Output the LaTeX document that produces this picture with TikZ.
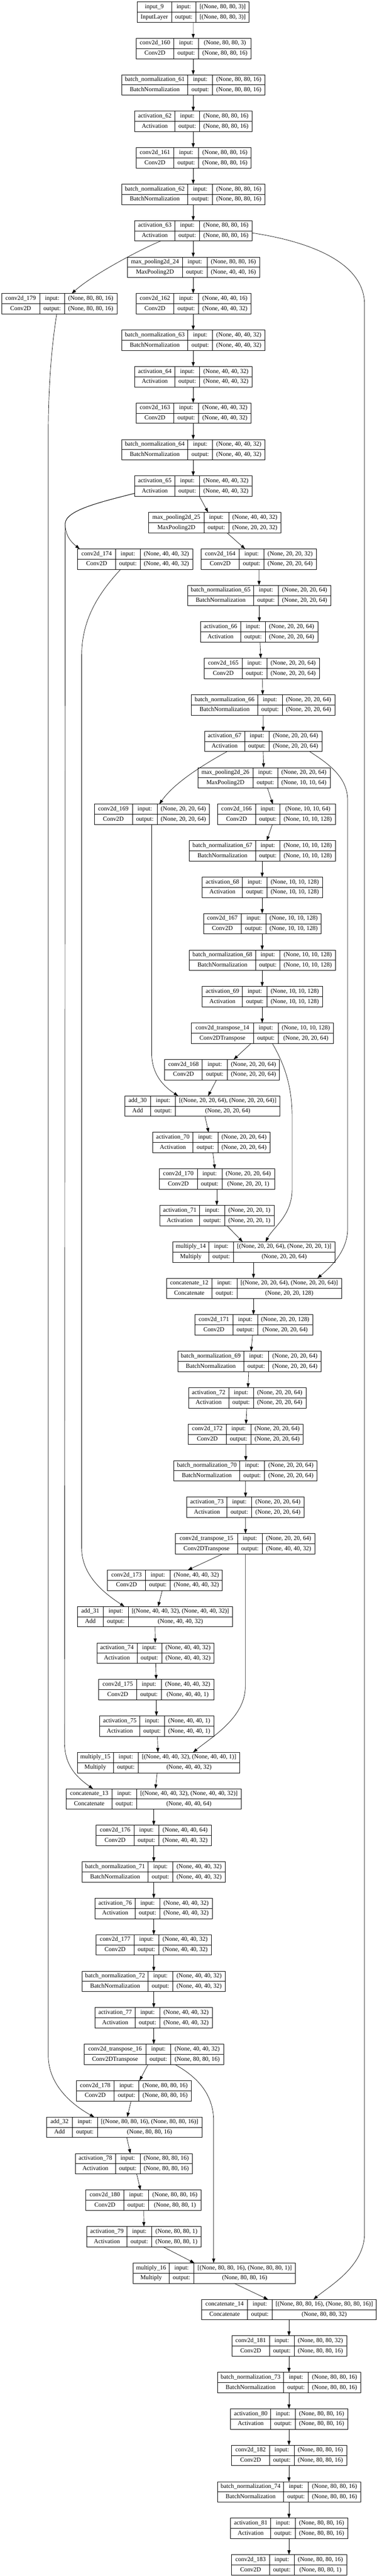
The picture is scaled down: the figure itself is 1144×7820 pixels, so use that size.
\documentclass[tikz,border=0pt]{standalone}
\usepackage{fontspec}
\setmainfont{Liberation Serif}
\usetikzlibrary{arrows.meta}
\tikzset{
  lbox/.style={draw, rectangle, line width=1pt, inner sep=0pt, outer sep=0pt, minimum height=46.5pt},
  cellline/.style={line width=1pt},
  ltxt/.style={inner sep=0pt, font=\fontsize{14}{16}\selectfont, text height=9.5pt, text depth=3pt},
  arr/.style={line width=0.8pt, -{Triangle[length=10pt,width=7pt]}},
}
\def\parsexs#1,#2,#3,#4\relax{\def\Lxl{#1}\def\Lda{#2}\def\Ldb{#3}\def\Lxr{#4}}
\newcommand\shp[3]{(None, #1, #2, #3)}
\newcommand\shl[6]{[(None, #1, #2, #3), (None, #4, #5, #6)]}
\newcommand\layer[7]{%
  \parsexs#3\relax
  \pgfmathsetmacro\Lyt{5.5+110.71*#2}%
  \pgfmathsetmacro\Lyb{\Lyt+62}%
  \pgfmathsetmacro\Lym{\Lyt+31}%
  \pgfmathsetmacro\Lyu{\Lyt+15.5}%
  \pgfmathsetmacro\Lyd{\Lyt+46.5}%
  \pgfmathsetmacro\Lxc{(\Lxl+\Lxr)/2}%
  \pgfmathsetmacro\Lw{(\Lxr-\Lxl)*0.75}%
  \expandafter\xdef\csname cx@#1\endcsname{\Lxc}%
  \node[lbox, minimum width=\Lw pt] (#1) at (\Lxc,\Lym) {};
  \draw[cellline] (\Lda,\Lyt) -- (\Lda,\Lyb) (\Ldb,\Lyt) -- (\Ldb,\Lyb) (\Lxl,\Lym) -- (\Lxr,\Lym);
  \node[ltxt] at ({(\Lxl+\Lda)/2},\Lyu) {#4};
  \node[ltxt] at ({(\Lxl+\Lda)/2},\Lyd) {#5};
  \node[ltxt] at ({(\Lda+\Ldb)/2},\Lyu) {input:};
  \node[ltxt] at ({(\Lda+\Ldb)/2},\Lyd) {output:};
  \node[ltxt] at ({(\Ldb+\Lxr)/2},\Lyu) {#6};
  \node[ltxt] at ({(\Ldb+\Lxr)/2},\Lyd) {#7};
}
\newcommand\sft[3]{\pgfmathsetmacro#1{(#3-\csname cx@#2\endcsname)*0.75}}
\newcommand\conn[4]{%
  \sft\Ea{#1}{#2}\sft\Eb{#3}{#4}%
  \draw[arr] ([xshift=\Ea pt]#1.south) -- ([xshift=\Eb pt]#3.north);}
\begin{document}
\begin{tikzpicture}[x=0.75pt,y=-0.75pt]
\path[use as bounding box, fill=white] (0,0) rectangle (1144,7820);
% ---------------- layers ----------------
\layer{in9}{0}{416.5,520.7,595.5,756.8}{input\_9}{InputLayer}{[\shp{80}{80}{3}]}{[\shp{80}{80}{3}]}
\layer{c160}{1}{413,528,603,763}{conv2d\_160}{Conv2D}{\shp{80}{80}{3}}{\shp{80}{80}{16}}
\layer{bn61}{2}{369.5,570.5,645.5,805}{batch\_normalization\_61}{BatchNormalization}{\shp{80}{80}{16}}{\shp{80}{80}{16}}
\layer{a62}{3}{409,531,606.5,765.5}{activation\_62}{Activation}{\shp{80}{80}{16}}{\shp{80}{80}{16}}
\layer{c161}{4}{413,528,603,763}{conv2d\_161}{Conv2D}{\shp{80}{80}{16}}{\shp{80}{80}{16}}
\layer{bn62}{5}{369.5,570.5,645.5,805}{batch\_normalization\_62}{BatchNormalization}{\shp{80}{80}{16}}{\shp{80}{80}{16}}
\layer{a63}{6}{409,531,606.5,765.5}{activation\_63}{Activation}{\shp{80}{80}{16}}{\shp{80}{80}{16}}
\layer{mp24}{7}{386.5,554.5,629,788.5}{max\_pooling2d\_24}{MaxPooling2D}{\shp{80}{80}{16}}{\shp{40}{40}{16}}
\layer{c179}{8}{5,120.5,196,355}{conv2d\_179}{Conv2D}{\shp{80}{80}{16}}{\shp{80}{80}{16}}
\layer{c162}{8}{413,528,603,763}{conv2d\_162}{Conv2D}{\shp{40}{40}{16}}{\shp{40}{40}{32}}
\layer{bn63}{9}{369.5,570.5,645.5,805}{batch\_normalization\_63}{BatchNormalization}{\shp{40}{40}{32}}{\shp{40}{40}{32}}
\layer{a64}{10}{409,531,606.5,765.5}{activation\_64}{Activation}{\shp{40}{40}{32}}{\shp{40}{40}{32}}
\layer{c163}{11}{413,528,603,763}{conv2d\_163}{Conv2D}{\shp{40}{40}{32}}{\shp{40}{40}{32}}
\layer{bn64}{12}{369.5,570.5,645.5,805}{batch\_normalization\_64}{BatchNormalization}{\shp{40}{40}{32}}{\shp{40}{40}{32}}
\layer{a65}{13}{409,531,606.5,765.5}{activation\_65}{Activation}{\shp{40}{40}{32}}{\shp{40}{40}{32}}
\layer{mp25}{14}{451.5,619.5,694.5,853.5}{max\_pooling2d\_25}{MaxPooling2D}{\shp{40}{40}{32}}{\shp{20}{20}{32}}
\layer{c174}{15}{236,351,426,585}{conv2d\_174}{Conv2D}{\shp{40}{40}{32}}{\shp{40}{40}{32}}
\layer{c164}{15}{611,726.5,801.5,960.5}{conv2d\_164}{Conv2D}{\shp{20}{20}{32}}{\shp{20}{20}{64}}
\layer{bn65}{16}{570,770,845.5,1004.5}{batch\_normalization\_65}{BatchNormalization}{\shp{20}{20}{64}}{\shp{20}{20}{64}}
\layer{a66}{17}{608.5,730.5,806,965}{activation\_66}{Activation}{\shp{20}{20}{64}}{\shp{20}{20}{64}}
\layer{c165}{18}{620.5,735.5,810.5,970}{conv2d\_165}{Conv2D}{\shp{20}{20}{64}}{\shp{20}{20}{64}}
\layer{bn66}{19}{581.5,782.5,857.5,1016.5}{batch\_normalization\_66}{BatchNormalization}{\shp{20}{20}{64}}{\shp{20}{20}{64}}
\layer{a67}{20}{621,743,817.5,977.5}{activation\_67}{Activation}{\shp{20}{20}{64}}{\shp{20}{20}{64}}
\layer{mp26}{21}{600.5,768.5,843.5,1002.5}{max\_pooling2d\_26}{MaxPooling2D}{\shp{20}{20}{64}}{\shp{10}{10}{64}}
\layer{c169}{22}{286.5,402,477.5,636}{conv2d\_169}{Conv2D}{\shp{20}{20}{64}}{\shp{20}{20}{64}}
\layer{c166}{22}{660.5,776,850.5,1018.5}{conv2d\_166}{Conv2D}{\shp{10}{10}{64}}{\shp{10}{10}{128}}
\layer{bn67}{23}{575,776,850.5,1018.5}{batch\_normalization\_67}{BatchNormalization}{\shp{10}{10}{128}}{\shp{10}{10}{128}}
\layer{a68}{24}{614.5,736.5,811,979}{activation\_68}{Activation}{\shp{10}{10}{128}}{\shp{10}{10}{128}}
\layer{c167}{25}{618,732.5,808,975.5}{conv2d\_167}{Conv2D}{\shp{10}{10}{128}}{\shp{10}{10}{128}}
\layer{bn68}{26}{575,776,850.5,1018.5}{batch\_normalization\_68}{BatchNormalization}{\shp{10}{10}{128}}{\shp{10}{10}{128}}
\layer{a69}{27}{614.5,736.5,811,979}{activation\_69}{Activation}{\shp{10}{10}{128}}{\shp{10}{10}{128}}
\layer{ct14}{28}{581,770,845,1012.5}{conv2d\_transpose\_14}{Conv2DTranspose}{\shp{10}{10}{128}}{\shp{20}{20}{64}}
\layer{c168}{29}{500,614.5,690,849}{conv2d\_168}{Conv2D}{\shp{20}{20}{64}}{\shp{20}{20}{64}}
\layer{add30}{30}{378.5,457.5,533,850}{add\_30}{Add}{\shl{20}{20}{64}{20}{20}{64}}{\shp{20}{20}{64}}
\layer{a70}{31}{464,586,661.5,820.5}{activation\_70}{Activation}{\shp{20}{20}{64}}{\shp{20}{20}{64}}
\layer{c170}{32}{484,599,674,834}{conv2d\_170}{Conv2D}{\shp{20}{20}{64}}{\shp{20}{20}{1}}
\layer{a71}{33}{485.5,606.5,682,832.5}{activation\_71}{Activation}{\shp{20}{20}{1}}{\shp{20}{20}{1}}
\layer{mul14}{34}{524.5,634.5,709,1017}{multiply\_14}{Multiply}{\shl{20}{20}{64}{20}{20}{1}}{\shp{20}{20}{64}}
\layer{cat12}{35}{505.5,644,719.5,1037}{concatenate\_12}{Concatenate}{\shl{20}{20}{64}{20}{20}{64}}{\shp{20}{20}{128}}
\layer{c171}{36}{592,707,782.5,949.5}{conv2d\_171}{Conv2D}{\shp{20}{20}{128}}{\shp{20}{20}{64}}
\layer{bn69}{37}{539.5,740.5,815.5,975.5}{batch\_normalization\_69}{BatchNormalization}{\shp{20}{20}{64}}{\shp{20}{20}{64}}
\layer{a72}{38}{572.5,694.5,769.5,929}{activation\_72}{Activation}{\shp{20}{20}{64}}{\shp{20}{20}{64}}
\layer{c172}{39}{572,687,762,921}{conv2d\_172}{Conv2D}{\shp{20}{20}{64}}{\shp{20}{20}{64}}
\layer{bn70}{40}{528,728,803.5,963}{batch\_normalization\_70}{BatchNormalization}{\shp{20}{20}{64}}{\shp{20}{20}{64}}
\layer{a73}{41}{567.5,689.5,764,924}{activation\_73}{Activation}{\shp{20}{20}{64}}{\shp{20}{20}{64}}
\layer{ct15}{42}{532.5,721.5,796.5,956.5}{conv2d\_transpose\_15}{Conv2DTranspose}{\shp{20}{20}{64}}{\shp{40}{40}{32}}
\layer{c173}{43}{326.5,442,517,675.5}{conv2d\_173}{Conv2D}{\shp{40}{40}{32}}{\shp{40}{40}{32}}
\layer{add31}{44}{234.5,314,389.5,706}{add\_31}{Add}{\shl{40}{40}{32}{40}{40}{32}}{\shp{40}{40}{32}}
\layer{a74}{45}{294,416,491.5,650.5}{activation\_74}{Activation}{\shp{40}{40}{32}}{\shp{40}{40}{32}}
\layer{c175}{46}{300,415,490,649.5}{conv2d\_175}{Conv2D}{\shp{40}{40}{32}}{\shp{40}{40}{1}}
\layer{a75}{47}{303,424.5,499.5,649.5}{activation\_75}{Activation}{\shp{40}{40}{1}}{\shp{40}{40}{1}}
\layer{mul15}{48}{234.5,344.5,420,728}{multiply\_15}{Multiply}{\shl{40}{40}{32}{40}{40}{1}}{\shp{40}{40}{32}}
\layer{cat13}{49}{201,340.5,415,732.5}{concatenate\_13}{Concatenate}{\shl{40}{40}{32}{40}{40}{32}}{\shp{40}{40}{64}}
\layer{c176}{50}{292,407,482.5,641.5}{conv2d\_176}{Conv2D}{\shp{40}{40}{64}}{\shp{40}{40}{32}}
\layer{bn71}{51}{249.5,449.5,525,684}{batch\_normalization\_71}{BatchNormalization}{\shp{40}{40}{32}}{\shp{40}{40}{32}}
\layer{a76}{52}{289,410.5,485.5,644.5}{activation\_76}{Activation}{\shp{40}{40}{32}}{\shp{40}{40}{32}}
\layer{c177}{53}{292,407,482.5,641.5}{conv2d\_177}{Conv2D}{\shp{40}{40}{32}}{\shp{40}{40}{32}}
\layer{bn72}{54}{249.5,449.5,525,684}{batch\_normalization\_72}{BatchNormalization}{\shp{40}{40}{32}}{\shp{40}{40}{32}}
\layer{a77}{55}{289,410.5,485.5,644.5}{activation\_77}{Activation}{\shp{40}{40}{32}}{\shp{40}{40}{32}}
\layer{ct16}{56}{255,443.5,518.5,679}{conv2d\_transpose\_16}{Conv2DTranspose}{\shp{40}{40}{32}}{\shp{80}{80}{16}}
\layer{c178}{57}{231.5,347,421.5,581.5}{conv2d\_178}{Conv2D}{\shp{80}{80}{16}}{\shp{80}{80}{16}}
\layer{add32}{58}{141.5,220,295.5,613}{add\_32}{Add}{\shl{80}{80}{16}{80}{80}{16}}{\shp{80}{80}{16}}
\layer{a78}{59}{229,350.5,425.5,584.5}{activation\_78}{Activation}{\shp{80}{80}{16}}{\shp{80}{80}{16}}
\layer{c180}{60}{261,376,451.5,611}{conv2d\_180}{Conv2D}{\shp{80}{80}{16}}{\shp{80}{80}{1}}
\layer{a79}{61}{264,385.5,460.5,611}{activation\_79}{Activation}{\shp{80}{80}{1}}{\shp{80}{80}{1}}
\layer{mul16}{62}{404,514,589,897}{multiply\_16}{Multiply}{\shl{80}{80}{16}{80}{80}{1}}{\shp{80}{80}{16}}
\layer{cat14}{63}{612.5,751.5,826.5,1143}{concatenate\_14}{Concatenate}{\shl{80}{80}{16}{80}{80}{16}}{\shp{80}{80}{32}}
\layer{c181}{64}{704,818.5,893,1053}{conv2d\_181}{Conv2D}{\shp{80}{80}{32}}{\shp{80}{80}{16}}
\layer{bn73}{65}{660.5,861.5,936.5,1095.5}{batch\_normalization\_73}{BatchNormalization}{\shp{80}{80}{16}}{\shp{80}{80}{16}}
\layer{a80}{66}{700.5,822,897,1056}{activation\_80}{Activation}{\shp{80}{80}{16}}{\shp{80}{80}{16}}
\layer{c182}{67}{703.5,818.5,893,1053}{conv2d\_182}{Conv2D}{\shp{80}{80}{16}}{\shp{80}{80}{16}}
\layer{bn74}{68}{660.5,861.5,936.5,1095.5}{batch\_normalization\_74}{BatchNormalization}{\shp{80}{80}{16}}{\shp{80}{80}{16}}
\layer{a81}{69}{700.5,822,897,1056}{activation\_81}{Activation}{\shp{80}{80}{16}}{\shp{80}{80}{16}}
\layer{c183}{70}{703.5,818.5,893,1053}{conv2d\_183}{Conv2D}{\shp{80}{80}{16}}{\shp{80}{80}{1}}
% ---------------- straight connectors ----------------
\conn{in9}{586.7}{c160}{586.7}
\conn{c160}{586.7}{bn61}{586.7}
\conn{bn61}{586.7}{a62}{586.7}
\conn{a62}{586.7}{c161}{586.7}
\conn{c161}{586.7}{bn62}{586.7}
\conn{bn62}{586.7}{a63}{586.7}
\conn{a63}{586.7}{mp24}{586.7}
\conn{mp24}{586.7}{c162}{586.7}
\conn{c162}{586.7}{bn63}{586.7}
\conn{bn63}{586.7}{a64}{586.7}
\conn{a64}{586.7}{c163}{586.7}
\conn{c163}{586.7}{bn64}{586.7}
\conn{bn64}{586.7}{a65}{586.7}
\conn{a65}{605.6}{mp25}{632}
\conn{mp25}{689.2}{c164}{744.2}
\conn{c164}{786.7}{bn65}{786.7}
\conn{bn65}{787.5}{a66}{787.5}
\conn{a66}{789.6}{c165}{791.8}
\conn{c165}{797}{bn66}{797.7}
\conn{bn66}{799.1}{a67}{799.1}
\conn{a67}{799.1}{mp26}{800.6}
\conn{mp26}{812.3}{c166}{828.4}
\conn{c166}{827}{bn67}{810}
\conn{bn67}{796.2}{a68}{796.2}
\conn{a68}{796.2}{c167}{796.2}
\conn{c167}{796.2}{bn68}{796.2}
\conn{bn68}{796.2}{a69}{796.2}
\conn{a69}{796.2}{ct14}{796.2}
\conn{ct14}{762.5}{c168}{709.7}
\conn{c168}{657.6}{add30}{632}
\conn{add30}{622.4}{a70}{633.4}
\conn{a70}{646.6}{c170}{652.5}
\conn{c170}{658.4}{a71}{658.4}
\conn{a71}{689.2}{mul14}{736.8}
\conn{mul14}{769.8}{cat12}{769.8}
\conn{cat12}{769.8}{c171}{769.8}
\conn{c171}{766.9}{bn69}{762.5}
\conn{bn69}{755.2}{a72}{753}
\conn{a72}{749.3}{c172}{747.1}
\conn{c172}{746.4}{bn70}{746.4}
\conn{bn70}{745.6}{a73}{745.6}
\conn{a73}{745.6}{ct15}{745.6}
\conn{ct15}{676}{c173}{570.4}
\conn{c173}{492.7}{add31}{480.2}
\conn{add31}{470.7}{a74}{471.4}
\conn{a74}{472.9}{c175}{474.3}
\conn{c175}{475}{a75}{475}
\conn{a75}{478}{mul15}{479.5}
\conn{mul15}{477.3}{cat13}{472.1}
\conn{cat13}{467}{c176}{467}
\conn{c176}{467}{bn71}{467}
\conn{bn71}{467}{a76}{467}
\conn{a76}{467}{c177}{467}
\conn{c177}{467}{bn72}{467}
\conn{bn72}{467}{a77}{467}
\conn{a77}{467}{ct16}{467}
\conn{ct16}{449.4}{c178}{423.8}
\conn{c178}{398.1}{add32}{386.4}
\conn{add32}{385}{a78}{396}
\conn{a78}{415}{c180}{426.7}
\conn{c180}{436.2}{a79}{437}
\conn{a79}{495.6}{mul16}{590.2}
\conn{mul16}{711.2}{cat14}{813.8}
\conn{cat14}{877.6}{c181}{877.6}
\conn{c181}{877.6}{bn73}{877.6}
\conn{bn73}{877.6}{a80}{877.6}
\conn{a80}{877.6}{c182}{877.6}
\conn{c182}{877.6}{bn74}{877.6}
\conn{bn74}{877.6}{a81}{877.6}
\conn{a81}{877.6}{c183}{877.6}
% ---------------- curved connectors ----------------
% activation_63 -> conv2d_179
\sft\Ea{a63}{487.6}\sft\Eb{c179}{217.8}
\draw[arr] ([xshift=\Ea pt]a63.south) .. controls (420,760) and (280,835) .. ([xshift=\Eb pt]c179.north);
% activation_63 -> concatenate_14
\sft\Eb{cat14}{952}
\draw[arr] ([yshift=-4.7pt]a63.east) .. controls (950,735) and (1107,800) .. (1107,925) -- (1107,6780) .. controls (1107,6880) and (1000,6940) .. ([xshift=\Eb pt]cat14.north);
% conv2d_179 -> add_32
\sft\Ea{c179}{172.3}\sft\Eb{add32}{286}
\draw[arr] ([xshift=\Ea pt]c179.south) .. controls (160,1030) and (146.6,1150) .. (146.6,1320) -- (146.6,6240) .. controls (146.6,6330) and (220,6390) .. ([xshift=\Eb pt]add32.north);
% activation_65 -> conv2d_174
\sft\Eb{c174}{242}
\draw[arr] ([yshift=-16.4pt]a65.west) .. controls (300,1525) and (198,1550) .. (198,1590) .. controls (198,1625) and (215,1645) .. ([xshift=\Eb pt]c174.north);
% activation_65 -> concatenate_13
\sft\Eb{cat13}{282.3}
\draw[arr] ([yshift=-16.4pt]a65.west) .. controls (300,1525) and (198,1550) .. (198,1590) -- (196,5290) .. controls (196,5365) and (240,5400) .. ([xshift=\Eb pt]cat13.north);
% conv2d_174 -> add_31
\sft\Ea{c174}{366.6}\sft\Eb{add31}{377.6}
\draw[arr] ([xshift=\Ea pt]c174.south) .. controls (300,1800) and (248,1880) .. (248,1990) -- (248,4700) .. controls (248,4790) and (330,4845) .. ([xshift=\Eb pt]add31.north);
% activation_67 -> conv2d_169
\sft\Ea{a67}{689.2}\sft\Eb{c169}{483.9}
\draw[arr] ([xshift=\Ea pt]a67.south) .. controls (620,2320) and (530,2375) .. ([xshift=\Eb pt]c169.north);
% activation_67 -> concatenate_12
\sft\Ea{a67}{940.6}\sft\Eb{cat12}{964}
\draw[arr] ([xshift=\Ea pt]a67.south) .. controls (1000,2320) and (1055.7,2360) .. (1055.7,2430) -- (1055.7,3730) .. controls (1055.7,3800) and (1000,3850) .. ([xshift=\Eb pt]cat12.north);
% conv2d_169 -> add_30
\sft\Ea{c169}{460.5}\sft\Eb{add30}{541}
\draw[arr] ([xshift=\Ea pt]c169.south) -- (460.5,3200) .. controls (462,3265) and (500,3300) .. ([xshift=\Eb pt]add30.north);
% conv2d_transpose_14 -> multiply_14
\sft\Ea{ct14}{827}\sft\Eb{mul14}{806.5}
\draw[arr] ([xshift=\Ea pt]ct14.south) .. controls (860,3225) and (887,3290) .. (887,3390) -- (887,3610) .. controls (887,3690) and (830,3725) .. ([xshift=\Eb pt]mul14.north);
% conv2d_transpose_15 -> multiply_15
\sft\Ea{ct15}{745}\sft\Eb{mul15}{586.5}
\draw[arr] ([xshift=\Ea pt]ct15.south) -- (745,5120) .. controls (745,5215) and (640,5275) .. ([xshift=\Eb pt]mul15.north);
% conv2d_transpose_16 -> multiply_16
\sft\Ea{ct16}{531.5}\sft\Eb{mul16}{648.8}
\draw[arr] ([xshift=\Ea pt]ct16.south) .. controls (590,6300) and (648.8,6350) .. (648.8,6440) -- ([xshift=\Eb pt]mul16.north);
\end{tikzpicture}
\end{document}
